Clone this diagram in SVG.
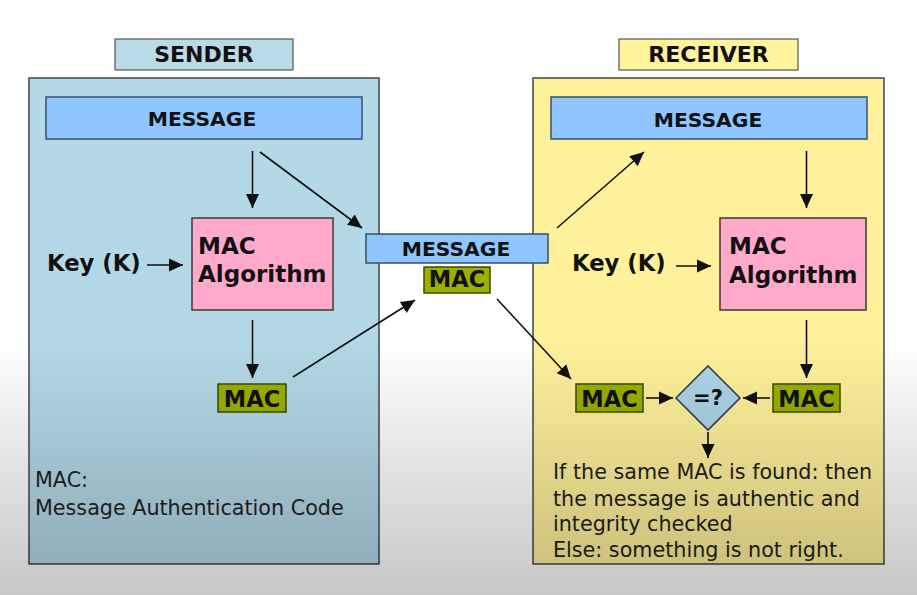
<svg xmlns="http://www.w3.org/2000/svg" width="917" height="595" viewBox="0 0 917 595">
<defs>
<linearGradient id="shade" x1="0" y1="0" x2="0" y2="595" gradientUnits="userSpaceOnUse">
<stop offset="0" stop-color="#000" stop-opacity="0"/>
<stop offset="0.57" stop-color="#000" stop-opacity="0"/>
<stop offset="1" stop-color="#000" stop-opacity="0.22"/>
</linearGradient>
<marker id="ah" viewBox="0 0 14 14" refX="14" refY="7" markerWidth="14" markerHeight="14" markerUnits="userSpaceOnUse" orient="auto">
<path d="M0,0.5 L14,7 L0,13.5 Z" fill="#111"/>
</marker>
</defs>
<style>
.b{font-family:"DejaVu Sans",sans-serif;font-weight:bold;fill:#111}
.r{font-family:"DejaVu Sans",sans-serif;font-size:20.7px;fill:#222}
.msg{fill:#8fc6ff;stroke:#34506a;stroke-width:1.5}
.alg{fill:#ffaacb;stroke:#3a3a3a;stroke-width:1.5}
.mac{fill:#9bb000;stroke:#3e4a00;stroke-width:1.5}
.c{stroke:#111;stroke-width:1.6;fill:none;marker-end:url(#ah)}
</style>
<rect width="917" height="595" fill="#fff"/>

<g id="sender">
<rect x="115" y="39" width="178" height="31" fill="#b8dbe7" stroke="#555" stroke-width="1.2"/>
<text class="b" x="204" y="62" font-size="22" text-anchor="middle">SENDER</text>
<rect x="29" y="78" width="350" height="486" fill="#b4d8e6" stroke="#444" stroke-width="1.5"/>
</g>
<g id="receiver">
<rect x="619" y="39" width="179" height="31" fill="#fff39c" stroke="#555" stroke-width="1.2"/>
<text class="b" x="708.5" y="62" font-size="22" text-anchor="middle">RECEIVER</text>
<rect x="533" y="78" width="351" height="486" fill="#fff19b" stroke="#444" stroke-width="1.5"/>
</g>

<g id="s-message">
<rect class="msg" x="46" y="97" width="316" height="42"/>
<text class="b" x="202" y="126" font-size="20.3" text-anchor="middle">MESSAGE</text>
</g>
<g id="s-key"><text class="b" x="47" y="271" font-size="22.7">Key (K)</text></g>
<g id="s-alg">
<rect class="alg" x="192" y="218" width="141" height="92"/>
<text class="b" x="198" y="254" font-size="23">MAC</text>
<text class="b" x="198" y="282" font-size="23">Algorithm</text>
</g>
<g id="s-mac">
<rect class="mac" x="218" y="384" width="68" height="28"/>
<text class="b" x="252" y="406.5" font-size="22.5" text-anchor="middle">MAC</text>
</g>
<g id="s-note">
<text class="r" x="35" y="487">MAC:</text>
<text class="r" x="35" y="515">Message Authentication Code</text>
</g>

<g id="t-message">
<rect class="msg" x="366" y="234" width="182" height="29"/>
<text class="b" x="456" y="256" font-size="20.3" text-anchor="middle">MESSAGE</text>
</g>
<g id="t-mac">
<rect class="mac" x="424" y="267" width="66" height="26"/>
<text class="b" x="457" y="287" font-size="22.5" text-anchor="middle">MAC</text>
</g>

<g id="r-message">
<rect class="msg" x="551" y="97" width="316" height="42"/>
<text class="b" x="708" y="126.5" font-size="20.3" text-anchor="middle">MESSAGE</text>
</g>
<g id="r-key"><text class="b" x="572" y="271" font-size="22.7">Key (K)</text></g>
<g id="r-alg">
<rect class="alg" x="720" y="218" width="146" height="92"/>
<text class="b" x="729" y="254" font-size="23">MAC</text>
<text class="b" x="729" y="283" font-size="23">Algorithm</text>
</g>
<g id="r-mac1">
<rect class="mac" x="576" y="384" width="67" height="28"/>
<text class="b" x="609.5" y="406.5" font-size="22.5" text-anchor="middle">MAC</text>
</g>
<g id="r-cmp">
<path d="M708,366 L740,398 L708,430 L676,398 Z" fill="#aed5e8" stroke="#2f3f55" stroke-width="1.6"/>
<text class="b" x="708" y="405" font-size="21" text-anchor="middle">=?</text>
</g>
<g id="r-mac2">
<rect class="mac" x="773" y="384" width="67" height="28"/>
<text class="b" x="806.5" y="406.5" font-size="22.5" text-anchor="middle">MAC</text>
</g>
<g id="r-note">
<text class="r" x="553" y="479">If the same MAC is found: then</text>
<text class="r" x="553" y="505.5">the message is authentic and</text>
<text class="r" x="553" y="531">integrity checked</text>
<text class="r" x="553" y="557">Else: something is not right.</text>
</g>

<g id="connectors">
<line class="c" x1="252.5" y1="151" x2="252.5" y2="208"/>
<line class="c" x1="260" y1="152" x2="362" y2="228"/>
<line class="c" x1="147" y1="265" x2="183" y2="265"/>
<line class="c" x1="252.5" y1="320" x2="252.5" y2="378"/>
<line class="c" x1="293" y1="377" x2="415" y2="300"/>
<line class="c" x1="497" y1="299" x2="571" y2="379" stroke-width="1.2"/>
<line class="c" x1="557" y1="228" x2="644" y2="152"/>
<line class="c" x1="806.5" y1="151" x2="806.5" y2="208"/>
<line class="c" x1="676" y1="266" x2="711" y2="266"/>
<line class="c" x1="806.5" y1="320" x2="806.5" y2="378"/>
<line class="c" x1="646" y1="398" x2="673" y2="398"/>
<line class="c" x1="770" y1="398" x2="743" y2="398"/>
<line class="c" x1="708" y1="432" x2="708" y2="458"/>
</g>
<rect width="917" height="595" fill="url(#shade)" pointer-events="none"/>
</svg>
